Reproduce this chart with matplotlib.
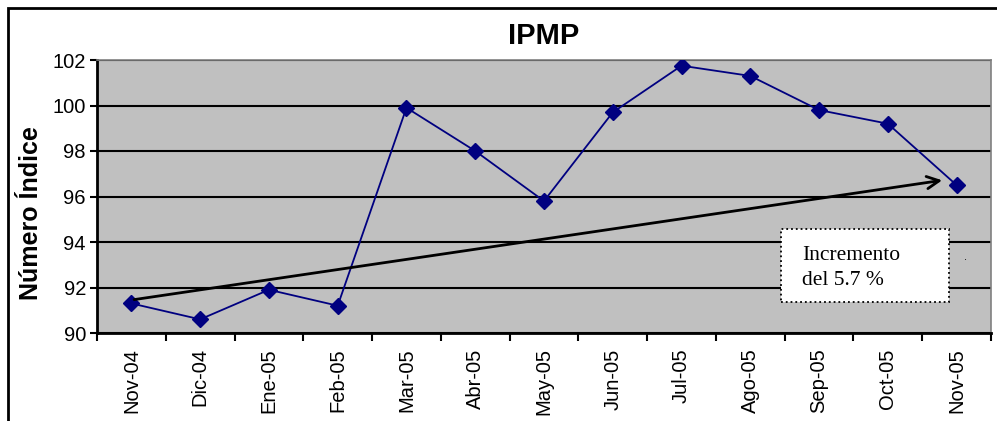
import matplotlib
matplotlib.use("Agg")
import matplotlib.pyplot as plt
from matplotlib.patches import Rectangle
from matplotlib.ticker import FixedLocator

plt.rcParams['font.family'] = ['Liberation Sans', 'DejaVu Sans']

categories = ["Nov-04", "Dic-04", "Ene-05", "Feb-05", "Mar-05", "Abr-05", "May-05",
              "Jun-05", "Jul-05", "Ago-05", "Sep-05", "Oct-05", "Nov-05"]
ipmp = [91.3, 90.6, 91.9, 91.2, 99.9, 98.0, 95.8, 99.7, 101.75, 101.3, 99.8, 99.2, 96.5]
y_ticks = [90, 92, 94, 96, 98, 100, 102]
arrow_start = (0.0, 91.45)
arrow_end = (11.83, 96.73)
note_lines = ["Incremento", "del 5.7 %"]

W, H = 997, 421
fig = plt.figure(figsize=(W / 100, H / 100), dpi=100)
ax = fig.add_axes([97/W, 1-333/H, (991-97)/W, (333-60)/H])

# outer chart border
fig.patches.append(Rectangle((8/W, -0.1), 1.2, (H-8)/H + 0.1, transform=fig.transFigure,
                             fill=False, edgecolor='black', linewidth=2.0, zorder=0))

ax.set_facecolor('#C0C0C0')
x = list(range(len(categories)))
ax.set_xlim(-0.5, len(categories) - 0.5)
ax.set_ylim(y_ticks[0], y_ticks[-1])
ax.set_yticks(y_ticks)
ax.yaxis.grid(True, color='black', linewidth=1.5)
ax.set_axisbelow(True)

ax.plot(x, ipmp, color='#000080', linewidth=1.3, marker='D', markersize=8,
        markerfacecolor='#000080', markeredgecolor='#000080', zorder=3)

ax.set_xticks(x)
ax.set_xticklabels(categories, rotation=90, fontsize=14.5)
ax.tick_params(axis='x', which='major', length=0, pad=11)
ax.xaxis.set_minor_locator(FixedLocator([i - 0.5 for i in range(len(categories) + 1)]))
ax.tick_params(axis='x', which='minor', length=6, width=1.5, direction='out')
ax.tick_params(axis='y', labelsize=14.5, length=5, width=1.5, pad=3)

for s in ['left', 'bottom']:
    ax.spines[s].set_linewidth(2)
    ax.spines[s].set_color('black')
for s in ['top', 'right']:
    ax.spines[s].set_linewidth(1.2)
    ax.spines[s].set_color('#808080')

fig.text(31/W, 1-213/H, "Número Índice", fontsize=18, fontweight='bold',
         rotation=90, ha='center', va='center')
fig.text(544/W, 1-36/H, "IPMP", fontsize=21, fontweight='bold', ha='center', va='center')

ax.annotate("", xy=arrow_end, xytext=arrow_start,
            arrowprops=dict(arrowstyle='->', color='black', lw=2, mutation_scale=22), zorder=4)

# note box
fig.patches.append(Rectangle((781/W, 1-302/H), (949-781)/W, (302-229)/H,
                             transform=fig.transFigure, facecolor='white', edgecolor='black',
                             linestyle=':', linewidth=1.3, zorder=5))
for i, line in enumerate(note_lines):
    fig.text(802/W, 1-(260 + 25*i)/H, line, fontsize=15.5, family='Liberation Serif',
             ha='left', va='baseline', zorder=6)
fig.text(965/W, 1-257/H, ".", fontsize=8, ha='center', va='center')

fig.savefig("out.png", dpi=100)
